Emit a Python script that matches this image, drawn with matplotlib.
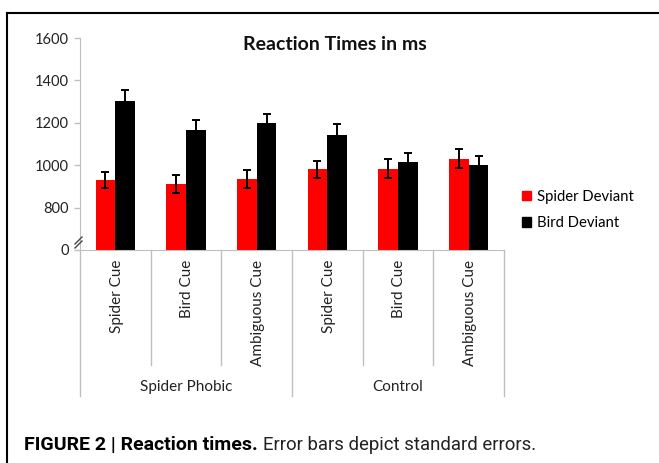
import matplotlib
matplotlib.use("Agg")
import matplotlib.pyplot as plt
import matplotlib.transforms as mtransforms
from matplotlib.lines import Line2D
from matplotlib.patches import Patch
import numpy as np

# datos (ms)
categorias = ["Spider Cue", "Bird Cue", "Ambiguous Cue",
              "Spider Cue", "Bird Cue", "Ambiguous Cue"]
grupos = ["Spider Phobic", "Control"]
spider_dev = [930, 912, 934, 980, 984, 1030]
spider_err = [39, 43, 42, 40, 43, 45]
bird_dev = [1305, 1164, 1200, 1142, 1014, 1003]
bird_err = [48, 47, 42, 50, 44, 42]
yticks = [600, 800, 1000, 1200, 1400, 1600]
ytick_labels = ["0", "800", "1000", "1200", "1400", "1600"]

plt.rcParams["font.family"] = ["Lato", "DejaVu Sans"]
W, H = 659, 463
fig = plt.figure(figsize=(W / 100, H / 100), dpi=100)

def fx(px):
    return px / W

def fy(py):
    return 1 - py / H

ax = fig.add_axes([fx(80), fy(250), fx(504) - fx(80), fy(38) - fy(250)])

x = np.arange(len(categorias))
ancho = 0.28
ek = dict(ecolor="black", elinewidth=1.4, capsize=3, capthick=1.4)
ax.bar(x - ancho / 2, spider_dev, ancho, color="#ff0000", label="Spider Deviant",
       yerr=spider_err, error_kw=ek)
ax.bar(x + ancho / 2, bird_dev, ancho, color="black", label="Bird Deviant",
       yerr=bird_err, error_kw=ek)

ax.set_xlim(-0.5, len(categorias) - 0.5)
ax.set_ylim(600, 1600)
ax.set_yticks(yticks)
ax.set_yticklabels(ytick_labels, fontsize=10.5)
ax.set_xticks([])
gris = "#bfbfbf"
for s in ["top", "right"]:
    ax.spines[s].set_visible(False)
ax.spines["left"].set_color(gris)
ax.spines["bottom"].set_color(gris)
ax.tick_params(axis="y", colors=gris, labelcolor="#222222", length=4, width=1, pad=4)

# lineas separadoras y etiquetas de categorias
trans = mtransforms.blended_transform_factory(ax.transData, ax.transAxes)
y_corto = -115 / 212
y_largo = -146 / 212
for i in range(len(categorias) + 1):
    xb = i - 0.5
    largo = y_largo if i % 3 == 0 else y_corto
    ax.plot([xb, xb], [0, largo], color=gris, lw=1, transform=trans, clip_on=False)
for i, cat in enumerate(categorias):
    ax.text(i + 0.02, -10 / 212, cat, rotation=90, ha="center", va="top",
            fontsize=11, color="#222222", transform=trans)
for g, nombre in enumerate(grupos):
    ax.text(g * 3 + 1, -137 / 212, nombre, ha="center", va="center",
            fontsize=11, color="#222222", transform=trans)

# marca de corte del eje
for dy in [0, 4]:
    fig.add_artist(Line2D([fx(75), fx(82)], [fy(248 - dy), fy(241 - dy)], color="#444444", lw=1))

ax.text(fx(335), fy(45), "Reaction Times in ms", transform=fig.transFigure,
        ha="center", va="center", fontsize=14, fontweight="bold", color="#111111")

handles = [Patch(color="#ff0000"), Patch(color="black")]
fig.legend(handles, ["Spider Deviant", "Bird Deviant"], loc="center left",
           bbox_to_anchor=(fx(509), fy(210)), frameon=False, fontsize=10.7,
           handlelength=0.6, handleheight=0.6, handletextpad=0.4, labelspacing=0.85)

# marco de la figura
fig.add_artist(Line2D([fx(7), 1], [fy(13), fy(13)], color="black", lw=1.5))
fig.add_artist(Line2D([fx(7), fx(7)], [fy(13), 0], color="black", lw=1.5))

# pie de figura
cap_fam = ["Roboto", "DejaVu Sans"]
t1 = fig.text(fx(24), fy(445), "FIGURE 2 | Reaction times.", fontsize=14,
              fontweight="bold", family=cap_fam, va="center", ha="left")
fig.canvas.draw()
bb = t1.get_window_extent()
fig.text(bb.x1 / W + fx(5), fy(445), "Error bars depict standard errors.", fontsize=13.4,
         family=cap_fam, va="center", ha="left", color="#222222")

fig.savefig("out.png", dpi=100)
